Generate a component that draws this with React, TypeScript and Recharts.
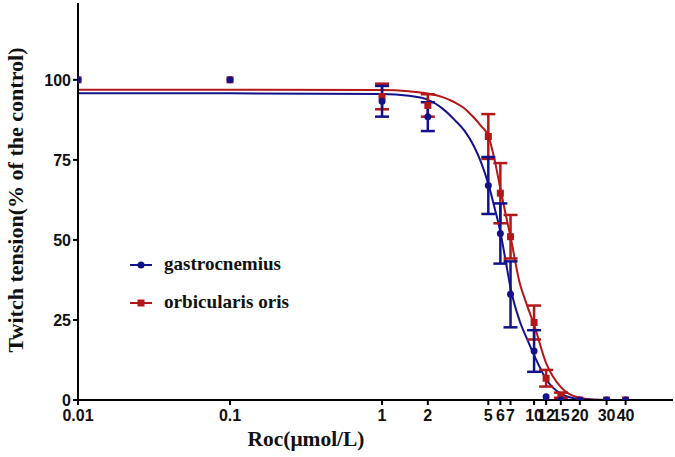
import {
  ComposedChart,
  Line,
  Scatter,
  ErrorBar,
  XAxis,
  YAxis,
  Legend,
} from 'recharts'

const BLUE = '#12128c'
const RED = '#b31717'
const TICK_FONT = "Arial, 'Liberation Sans', sans-serif"
const TITLE_FONT = "'Times New Roman', 'Liberation Serif', serif"

// tick labels
const xTicks = [0.01, 0.1, 1, 2, 5, 6, 7, 10, 12, 15, 20, 30, 40]
const yTicks = [0, 25, 50, 75, 100]

// measured points (mean ± SEM)
const doses = [0.01, 0.1, 1, 2, 5, 6, 7, 10, 12, 15, 20, 30, 40]
const gastroMean = [100, 100, 93.3, 88.5, 67, 52, 33, 15.3, 1, 0, 0, 0, 0]
const gastroSem = [0, 0, 4.8, 4.5, 8.9, 9.4, 10.3, 6.5, 0, 0, 0, 0, 0]
const orbicMean = [100, 100, 94.8, 92, 82.3, 64.6, 51, 24.2, 6.8, 1.5, 0, 0, 0]
const orbicSem = [0, 0, 4, 3.5, 7, 9.4, 6.8, 5.3, 2.6, 0.8, 0, 0, 0]

// fitted curves
const fitDoses = [0.01, 0.1, 1, 1.5, 2, 2.5, 3, 3.5, 4, 4.5, 5, 5.5, 6, 6.5, 7, 8, 9, 10, 12, 15, 20, 25, 40]
const gastroFit = [95.8, 95.8, 95.6, 95, 93.8, 91, 87.5, 84, 79.5, 74, 67.5, 60, 52.5, 43.5, 35, 25, 19, 14, 6.5, 2, 0.3, 0.1, 0]
const orbicFit = [96.9, 96.9, 96.8, 96.4, 95.7, 94.6, 93, 91, 88.3, 85.5, 82.5, 75, 66, 58, 51, 37, 29.5, 23.5, 11.5, 4, 0.6, 0.1, 0]

const gastroPts = doses.map((x, i) => ({ x, y: gastroMean[i], err: gastroSem[i] }))
const orbicPts = doses.map((x, i) => ({ x, y: orbicMean[i], err: orbicSem[i] }))
const gastroCurve = fitDoses.map((x, i) => ({ x, y: gastroFit[i] }))
const orbicCurve = fitDoses.map((x, i) => ({ x, y: orbicFit[i] }))

const XTick = ({ x, y, payload }: any) => (
  <text x={x} y={y} dy={14} textAnchor="middle" fontFamily={TICK_FONT} fontWeight="bold" fontSize={16} fill="#111">
    {payload.value}
  </text>
)

const YTick = ({ x, y, payload }: any) => (
  <text x={x} y={y} dy={6} textAnchor="end" fontFamily={TICK_FONT} fontWeight="bold" fontSize={16} fill="#111">
    {payload.value}
  </text>
)

const Dot = ({ cx, cy }: any) => <circle cx={cx} cy={cy} r={3.5} fill={BLUE} />
const Square = ({ cx, cy }: any) => <rect x={cx - 3.5} y={cy - 3.5} width={7} height={7} fill={RED} />

const LegendBox = () => (
  <svg width={200} height={70}>
    <line x1={10} x2={32} y1={17} y2={17} stroke={BLUE} strokeWidth={2} />
    <circle cx={21} cy={17} r={3.5} fill={BLUE} />
    <text x={44} y={22} fontFamily={TITLE_FONT} fontWeight="bold" fontSize={19} textLength={117} lengthAdjust="spacingAndGlyphs" fill="#111">
      gastrocnemius
    </text>
    <line x1={10} x2={32} y1={55} y2={55} stroke={RED} strokeWidth={2} />
    <rect x={17.5} y={51.5} width={7} height={7} fill={RED} />
    <text x={44} y={60} fontFamily={TITLE_FONT} fontWeight="bold" fontSize={19} textLength={125} lengthAdjust="spacingAndGlyphs" fill="#111">
      orbicularis oris
    </text>
  </svg>
)

export default function App() {
  return (
    <div style={{ position: 'absolute', left: 0, top: 0, background: '#fff' }}>
      <ComposedChart width={675} height={457} margin={{ top: 3, right: 2, bottom: 0, left: 0 }}>
        <XAxis
          dataKey="x"
          type="number"
          scale="log"
          domain={[0.01, 82]}
          allowDataOverflow
          ticks={xTicks}
          interval={0}
          height={57}
          tickSize={5}
          tick={<XTick />}
          axisLine={{ stroke: '#000', strokeWidth: 2 }}
          tickLine={{ stroke: '#000', strokeWidth: 2 }}
          label={{
            content: () => (
              <text x={306} y={446} textAnchor="middle" fontFamily={TITLE_FONT} fontWeight="bold" fontSize={21} textLength={117} lengthAdjust="spacingAndGlyphs" fill="#111">
                Roc(μmol/L)
              </text>
            ),
          }}
        />
        <YAxis
          dataKey="y"
          type="number"
          domain={[0, 124]}
          allowDataOverflow
          ticks={yTicks}
          interval={0}
          width={78}
          tickSize={5}
          tick={<YTick />}
          axisLine={{ stroke: '#000', strokeWidth: 2 }}
          tickLine={{ stroke: '#000', strokeWidth: 2 }}
          label={{
            content: () => (
              <text transform="translate(23,200) rotate(-90)" textAnchor="middle" fontFamily={TITLE_FONT} fontWeight="bold" fontSize={21} textLength={305} lengthAdjust="spacingAndGlyphs" fill="#111">
                Twitch tension(% of the control)
              </text>
            ),
          }}
        />
        <Legend
          layout="horizontal"
          verticalAlign="middle"
          align="center"
          content={() => <LegendBox />}
          wrapperStyle={{ left: 120, top: 248, width: 200, height: 70 }}
        />
        <Line data={orbicCurve} dataKey="y" type="monotone" stroke={RED} strokeWidth={2} dot={false} isAnimationActive={false} legendType="none" />
        <Line data={gastroCurve} dataKey="y" type="monotone" stroke={BLUE} strokeWidth={2} dot={false} isAnimationActive={false} legendType="none" />
        <Scatter data={orbicPts} dataKey="y" shape={<Square />} isAnimationActive={false}>
          <ErrorBar dataKey="err" direction="y" width={7} strokeWidth={2.5} stroke={RED} />
        </Scatter>
        <Scatter data={gastroPts} dataKey="y" shape={<Dot />} isAnimationActive={false}>
          <ErrorBar dataKey="err" direction="y" width={7} strokeWidth={2.5} stroke={BLUE} />
        </Scatter>
      </ComposedChart>
    </div>
  )
}
